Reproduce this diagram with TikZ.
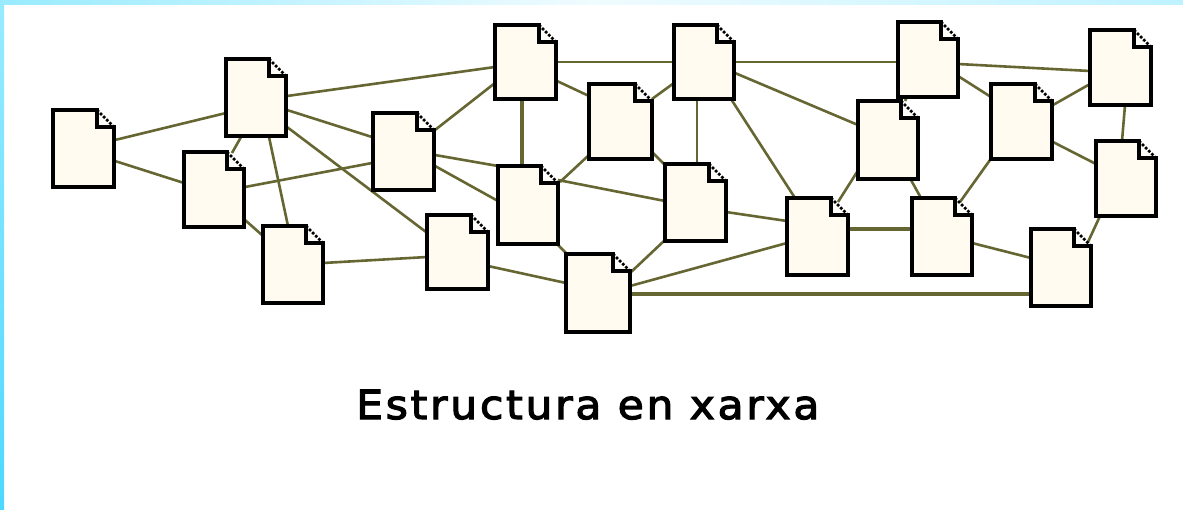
\documentclass[tikz,border=0pt]{standalone}
\usepackage{fontspec}
\newfontfamily\capfont[LetterSpace=7,FakeBold=3,FakeStretch=1.06]{DejaVu Sans}
\usetikzlibrary{backgrounds}
\definecolor{linkcol}{HTML}{666633}
\definecolor{paper}{HTML}{FFFBF0}
\definecolor{skyA}{HTML}{99EBFF}
\definecolor{skyB}{HTML}{F0FCFF}
\definecolor{skyC}{HTML}{BFF2FF}
\definecolor{skyD}{HTML}{4DD8FF}
\tikzset{
  x=1pt,y=-1pt,
  docbox/.style={inner sep=0pt,outer sep=0pt},
  docline/.style={line width=3.8pt,draw=black,miter limit=10},
  link/.style={line width=2.6pt,draw=linkcol},
  thinlink/.style={line width=1.8pt,draw=linkcol},
  thicklink/.style={line width=3.2pt,draw=linkcol},
}
% name, left, top, right, bottom
\newcommand{\docpage}[5]{%
  \node[docbox,minimum width=#4pt-#2pt,minimum height=#5pt-#3pt] (#1) at ({(#2+#4)/2},{(#3+#5)/2}) {};
  \fill[paper] (#2,#3) -- ({#4-17},#3) -- (#4,{#3+17}) -- (#4,#5) -- (#2,#5) -- cycle;
  \fill[white!60!paper] ({#4-17},#3) -- (#4,{#3+17}) -- ({#4-17},{#3+17}) -- cycle;
  \draw[docline] ({#4-17},#3) -- (#2,#3) -- (#2,#5) -- (#4,#5) -- (#4,{#3+17}) -- ({#4-17},{#3+17}) -- cycle;
  \draw[line width=2.8pt,dash pattern=on 2.6pt off 1.8pt] ({#4-17},#3) -- (#4,{#3+17});
}
% style, node, x, y offsets from its NW corner, node, x, y offsets
\newcommand{\lnk}[7][link]{%
  \draw[#1] ([xshift=#3pt,yshift=-#4pt]#2.north west) -- ([xshift=#6pt,yshift=-#7pt]#5.north west);
}
\begin{document}
\begin{tikzpicture}
\useasboundingbox (0,0) rectangle (1183,509);
\docpage{A}{53}{110}{114}{187}
\docpage{B}{226}{59}{286}{136}
\docpage{C}{184}{152}{244}{227}
\docpage{D}{263}{226}{323}{303}
\docpage{E}{373}{113}{434}{190}
\docpage{F}{427}{215}{488}{289}
\docpage{G}{495}{25}{556}{99}
\docpage{H}{498}{166}{558}{244}
\docpage{I}{589}{84}{652}{159}
\docpage{J}{674}{25}{734}{99}
\docpage{K}{665}{164}{726}{241}
\docpage{L}{566}{254}{630}{332}
\docpage{M}{787}{198}{848}{275}
\docpage{N}{858}{101}{918}{179}
\docpage{O}{898}{22}{958}{97}
\docpage{P}{912}{198}{972}{275}
\docpage{Q}{991}{84}{1052}{159}
\docpage{R}{1031}{229}{1091}{306}
\docpage{S}{1090}{30}{1151}{105}
\docpage{T}{1096}{141}{1156}{216}
\begin{scope}[on background layer]
\fill[white] (0,0) rectangle (1183,509);
\shade[left color=skyA,right color=skyC,middle color=skyB] (0,0) rectangle (1183,4);
\shade[top color=skyA,bottom color=skyD] (0,0) rectangle (4,509);
\lnk{A}{62}{30}{B}{0}{54}
\lnk{A}{62}{51}{C}{0}{31}
\lnk{B}{15}{78}{C}{48}{1}
\lnk{B}{43}{78}{D}{25}{0}
\lnk{B}{61}{51}{E}{-1}{24}
\lnk{B}{61}{68}{F}{-1}{17}
\lnk{B}{61}{37}{G}{0}{42}
\lnk{C}{61}{35}{E}{-1}{50}
\lnk{C}{61}{68}{D}{-1}{9}
\lnk{D}{60}{37}{F}{0}{42}
\lnk{E}{62}{17}{G}{0}{58}
\lnk{E}{62}{42}{H}{0}{0}
\lnk{E}{62}{53}{H}{0}{35}
\lnk{F}{61}{51}{L}{0}{29}
\lnk[thicklink]{G}{27}{74}{H}{24}{0}
\lnk[thinlink]{G}{61}{37}{J}{0}{37}
\lnk{G}{62}{56}{I}{0}{12}
\lnk{I}{63}{15}{J}{0}{58}
\lnk{I}{0}{71}{H}{62}{16}
\lnk{I}{63}{68}{K}{0}{1}
\lnk{H}{60}{14}{K}{0}{37}
\lnk{H}{60}{79}{L}{0}{-1}
\lnk[thinlink]{J}{23}{74}{K}{32}{0}
\lnk[thinlink]{J}{60}{37}{O}{0}{40}
\lnk{J}{61}{48}{N}{0}{24}
\lnk{J}{57}{74}{M}{8}{0}
\lnk{K}{61}{48}{M}{0}{23}
\lnk{K}{0}{76}{L}{64}{19}
\lnk{L}{64}{32}{M}{0}{45}
\lnk[thicklink]{L}{64}{40}{R}{0}{65}
\lnk{M}{51}{4}{N}{-1}{71}
\lnk[thicklink]{M}{61}{31}{P}{0}{31}
\lnk{N}{47}{0}{O}{9}{75}
\lnk{N}{53}{79}{P}{9}{0}
\lnk{O}{60}{42}{S}{0}{41}
\lnk{O}{60}{54}{Q}{0}{13}
\lnk{Q}{62}{21}{S}{0}{54}
\lnk{Q}{62}{58}{T}{0}{23}
\lnk{Q}{-1}{76}{P}{48}{4}
\lnk{P}{60}{45}{R}{0}{29}
\lnk{R}{57}{13}{T}{4}{75}
\lnk{S}{35}{75}{T}{26}{0}
\end{scope}
\node[inner sep=0pt,anchor=base west] (cap) at (356,419) {\capfont\fontsize{40}{40}\selectfont Estructura en xarxa};
\end{tikzpicture}
\end{document}
